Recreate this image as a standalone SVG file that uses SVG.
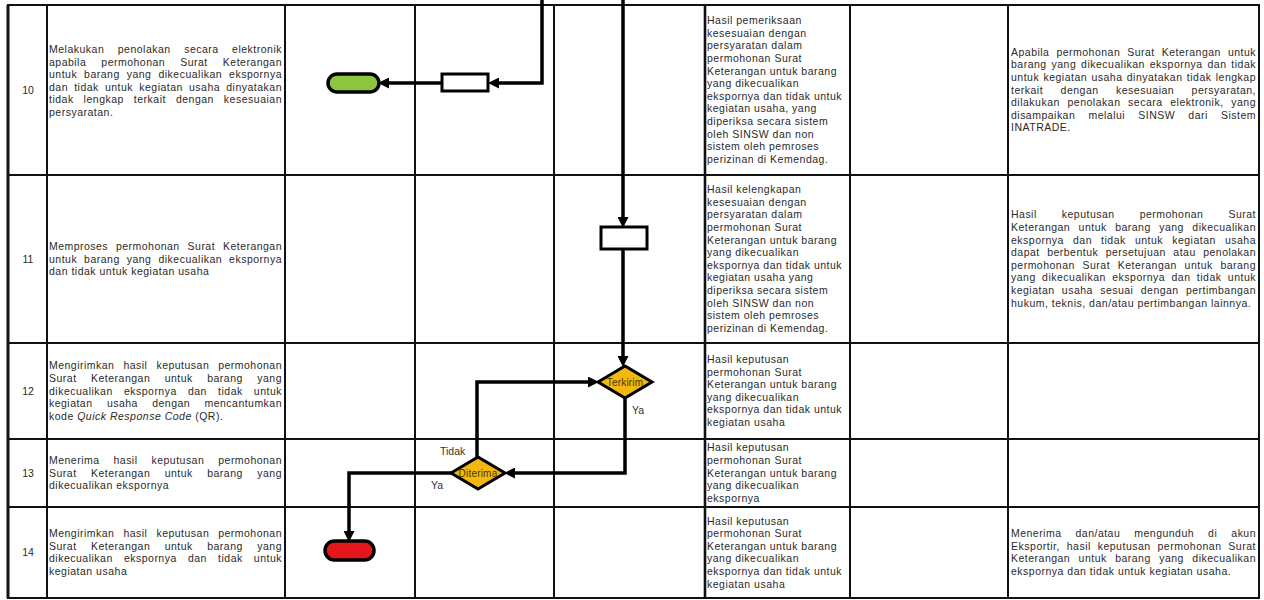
<svg xmlns="http://www.w3.org/2000/svg" width="1264" height="600" viewBox="0 0 1264 600">
<style>
.g{stroke:#111;stroke-width:2;fill:none}
.t{font-family:"Liberation Sans",Arial,sans-serif;font-size:10.5px;fill:#2a2a2a;letter-spacing:0.5px}
.n{font-family:"Liberation Sans",Arial,sans-serif;font-size:10.5px;fill:#2a2a2a;text-anchor:middle}
.lb{font-family:"Liberation Sans",Arial,sans-serif;font-size:10.5px;fill:#333}
.dt{font-family:"Liberation Sans",Arial,sans-serif;font-size:10px;letter-spacing:0.2px;fill:#4a3500;text-anchor:middle}
.c{stroke:#000;stroke-width:3.5;fill:none;marker-end:url(#ah)}
.box{fill:#fff;stroke:#000;stroke-width:3}
.dia{fill:#F3B70F;stroke:#000;stroke-width:3}
</style>
<defs>
<marker id="ah" markerUnits="userSpaceOnUse" markerWidth="11" markerHeight="11" refX="4" refY="5.5" orient="auto" viewBox="0 0 11 11">
<path d="M0,0 L11,5.5 L0,11 z" fill="#000"/>
</marker>
</defs>
<rect x="0" y="0" width="1264" height="600" fill="#fff"/>
<g id="grid">
<rect x="8" y="5" width="1251" height="593" class="g"/>
<line x1="8" y1="5" x2="8" y2="598" stroke="#111" stroke-width="3"/>
<line x1="47" y1="5" x2="47" y2="598" class="g"/>
<line x1="285" y1="5" x2="285" y2="598" class="g"/>
<line x1="415" y1="5" x2="415" y2="598" class="g"/>
<line x1="554" y1="5" x2="554" y2="598" class="g"/>
<line x1="705" y1="5" x2="705" y2="598" stroke="#111" stroke-width="2.6"/>
<line x1="850" y1="5" x2="850" y2="598" class="g"/>
<line x1="1008" y1="5" x2="1008" y2="598" class="g"/>
<line x1="8" y1="175" x2="1259" y2="175" class="g"/>
<line x1="8" y1="343" x2="1259" y2="343" class="g"/>
<line x1="8" y1="439" x2="1259" y2="439" class="g"/>
<line x1="8" y1="507" x2="1259" y2="507" class="g"/>
</g>
<g id="row10">
<text class="n" x="28" y="93.5">10</text>
<text class="t" x="49" y="53" word-spacing="10.1" textLength="233" lengthAdjust="spacing">Melakukan penolakan secara elektronik</text>
<text class="t" x="49" y="65.6" word-spacing="11.7" textLength="233" lengthAdjust="spacing">apabila permohonan Surat Keterangan</text>
<text class="t" x="49" y="78.2" word-spacing="3.5" textLength="233" lengthAdjust="spacing">untuk barang yang dikecualikan ekspornya</text>
<text class="t" x="49" y="90.8" word-spacing="2.7" textLength="233" lengthAdjust="spacing">dan tidak untuk kegiatan usaha dinyatakan</text>
<text class="t" x="49" y="103.4" word-spacing="6.5" textLength="233" lengthAdjust="spacing">tidak lengkap terkait dengan kesesuaian</text>
<text class="t" x="49" y="116">persyaratan.</text>
<text class="t" x="707" y="24.2">Hasil pemeriksaan</text>
<text class="t" x="707" y="36.8">kesesuaian dengan</text>
<text class="t" x="707" y="49.4">persyaratan dalam</text>
<text class="t" x="707" y="62">permohonan Surat</text>
<text class="t" x="707" y="74.6">Keterangan untuk barang</text>
<text class="t" x="707" y="87.2">yang dikecualikan</text>
<text class="t" x="707" y="99.8">ekspornya dan tidak untuk</text>
<text class="t" x="707" y="112.4">kegiatan usaha, yang</text>
<text class="t" x="707" y="125">diperiksa secara sistem</text>
<text class="t" x="707" y="137.6">oleh SINSW dan non</text>
<text class="t" x="707" y="150.2">sistem oleh pemroses</text>
<text class="t" x="707" y="162.8">perizinan di Kemendag.</text>
<text class="t" x="1011" y="55.7" word-spacing="3.6" textLength="245" lengthAdjust="spacing">Apabila permohonan Surat Keterangan untuk</text>
<text class="t" x="1011" y="68.3" word-spacing="1.4" textLength="245" lengthAdjust="spacing">barang yang dikecualikan ekspornya dan tidak</text>
<text class="t" x="1011" y="80.9" word-spacing="0.8" textLength="245" lengthAdjust="spacing">untuk kegiatan usaha dinyatakan tidak lengkap</text>
<text class="t" x="1011" y="93.5" word-spacing="14" textLength="245" lengthAdjust="spacing">terkait dengan kesesuaian persyaratan,</text>
<text class="t" x="1011" y="106.1" word-spacing="4.2" textLength="245" lengthAdjust="spacing">dilakukan penolakan secara elektronik, yang</text>
<text class="t" x="1011" y="118.7" word-spacing="9.8" textLength="245" lengthAdjust="spacing">disampaikan melalui SINSW dari Sistem</text>
<text class="t" x="1011" y="131.3">INATRADE.</text>
</g>
<g id="row11">
<text class="n" x="28" y="262.5">11</text>
<text class="t" x="49" y="249.9" word-spacing="4.6" textLength="233" lengthAdjust="spacing">Memproses permohonan Surat Keterangan</text>
<text class="t" x="49" y="262.5" word-spacing="3.5" textLength="233" lengthAdjust="spacing">untuk barang yang dikecualikan ekspornya</text>
<text class="t" x="49" y="275.1">dan tidak untuk kegiatan usaha</text>
<text class="t" x="707" y="193.2">Hasil kelengkapan</text>
<text class="t" x="707" y="205.8">kesesuaian dengan</text>
<text class="t" x="707" y="218.4">persyaratan dalam</text>
<text class="t" x="707" y="231">permohonan Surat</text>
<text class="t" x="707" y="243.6">Keterangan untuk barang</text>
<text class="t" x="707" y="256.2">yang dikecualikan</text>
<text class="t" x="707" y="268.8">ekspornya dan tidak untuk</text>
<text class="t" x="707" y="281.4">kegiatan usaha yang</text>
<text class="t" x="707" y="294">diperiksa secara sistem</text>
<text class="t" x="707" y="306.6">oleh SINSW dan non</text>
<text class="t" x="707" y="319.2">sistem oleh pemroses</text>
<text class="t" x="707" y="331.8">perizinan di Kemendag.</text>
<text class="t" x="1011" y="218.4" word-spacing="21.7" textLength="245" lengthAdjust="spacing">Hasil keputusan permohonan Surat</text>
<text class="t" x="1011" y="231" word-spacing="5" textLength="245" lengthAdjust="spacing">Keterangan untuk barang yang dikecualikan</text>
<text class="t" x="1011" y="243.6" word-spacing="5.7" textLength="245" lengthAdjust="spacing">ekspornya dan tidak untuk kegiatan usaha</text>
<text class="t" x="1011" y="256.2" word-spacing="4.1" textLength="245" lengthAdjust="spacing">dapat berbentuk persetujuan atau penolakan</text>
<text class="t" x="1011" y="268.8" word-spacing="4.3" textLength="245" lengthAdjust="spacing">permohonan Surat Keterangan untuk barang</text>
<text class="t" x="1011" y="281.4" word-spacing="2.9" textLength="245" lengthAdjust="spacing">yang dikecualikan ekspornya dan tidak untuk</text>
<text class="t" x="1011" y="294" word-spacing="3.9" textLength="245" lengthAdjust="spacing">kegiatan usaha sesuai dengan pertimbangan</text>
<text class="t" x="1011" y="306.6">hukum, teknis, dan/atau pertimbangan lainnya.</text>
</g>
<g id="row12">
<text class="n" x="28" y="394.5">12</text>
<text class="t" x="49" y="369.3" word-spacing="5.6" textLength="233" lengthAdjust="spacing">Mengirimkan hasil keputusan permohonan</text>
<text class="t" x="49" y="381.9" word-spacing="11" textLength="233" lengthAdjust="spacing">Surat Keterangan untuk barang yang</text>
<text class="t" x="49" y="394.5" word-spacing="7.7" textLength="233" lengthAdjust="spacing">dikecualikan ekspornya dan tidak untuk</text>
<text class="t" x="49" y="407.1" word-spacing="11" textLength="233" lengthAdjust="spacing">kegiatan usaha dengan mencantumkan</text>
<text class="t" x="49" y="419.7">kode <tspan font-style="italic">Quick Response Code</tspan> (QR).</text>
<text class="t" x="707" y="363">Hasil keputusan</text>
<text class="t" x="707" y="375.6">permohonan Surat</text>
<text class="t" x="707" y="388.2">Keterangan untuk barang</text>
<text class="t" x="707" y="400.8">yang dikecualikan</text>
<text class="t" x="707" y="413.4">ekspornya dan tidak untuk</text>
<text class="t" x="707" y="426">kegiatan usaha</text>
</g>
<g id="row13">
<text class="n" x="28" y="476.5">13</text>
<text class="t" x="49" y="463.9" word-spacing="10.6" textLength="233" lengthAdjust="spacing">Menerima hasil keputusan permohonan</text>
<text class="t" x="49" y="476.5" word-spacing="11" textLength="233" lengthAdjust="spacing">Surat Keterangan untuk barang yang</text>
<text class="t" x="49" y="489.1">dikecualikan ekspornya</text>
<text class="t" x="707" y="451.3">Hasil keputusan</text>
<text class="t" x="707" y="463.9">permohonan Surat</text>
<text class="t" x="707" y="476.5">Keterangan untuk barang</text>
<text class="t" x="707" y="489.1">yang dikecualikan</text>
<text class="t" x="707" y="501.7">ekspornya</text>
</g>
<g id="row14">
<text class="n" x="28" y="556">14</text>
<text class="t" x="49" y="537.1" word-spacing="5.6" textLength="233" lengthAdjust="spacing">Mengirimkan hasil keputusan permohonan</text>
<text class="t" x="49" y="549.7" word-spacing="11" textLength="233" lengthAdjust="spacing">Surat Keterangan untuk barang yang</text>
<text class="t" x="49" y="562.3" word-spacing="7.7" textLength="233" lengthAdjust="spacing">dikecualikan ekspornya dan tidak untuk</text>
<text class="t" x="49" y="574.9">kegiatan usaha</text>
<text class="t" x="707" y="524.5">Hasil keputusan</text>
<text class="t" x="707" y="537.1">permohonan Surat</text>
<text class="t" x="707" y="549.7">Keterangan untuk barang</text>
<text class="t" x="707" y="562.3">yang dikecualikan</text>
<text class="t" x="707" y="574.9">ekspornya dan tidak untuk</text>
<text class="t" x="707" y="587.5">kegiatan usaha</text>
<text class="t" x="1011" y="537.1" word-spacing="10.7" textLength="245" lengthAdjust="spacing">Menerima dan/atau mengunduh di akun</text>
<text class="t" x="1011" y="549.7" word-spacing="3.35" textLength="245" lengthAdjust="spacing">Eksportir, hasil keputusan permohonan Surat</text>
<text class="t" x="1011" y="562.3" word-spacing="5" textLength="245" lengthAdjust="spacing">Keterangan untuk barang yang dikecualikan</text>
<text class="t" x="1011" y="574.9">ekspornya dan tidak untuk kegiatan usaha.</text>
</g>
<g id="connectors">
<path class="c" d="M542,0 V83 H495"/>
<path class="c" d="M442,83 H385"/>
<path class="c" d="M623,0 V221"/>
<path class="c" d="M623,249 V360"/>
<path class="c" d="M625,397 V473 H511"/>
<path class="c" d="M477,457 V382 H592"/>
<path class="c" d="M451,473 H349 V535"/>
</g>
<g id="end-green"><rect x="328" y="74" width="51" height="18" rx="9" fill="#8CC63F" stroke="#000" stroke-width="3.5"/></g>
<g id="proc-10"><rect x="442" y="74" width="46" height="17" class="box"/></g>
<g id="proc-11"><rect x="601" y="227" width="46" height="22" class="box"/></g>
<g id="dec-terkirim">
<polygon points="598,382 625,366 652,382 625,398" class="dia"/>
<text class="dt" x="625" y="385.5">Terkirim</text>
</g>
<g id="dec-diterima">
<polygon points="451,473 478,457 505,473 478,489" class="dia"/>
<text class="dt" x="478" y="476.5">Diterima</text>
</g>
<g id="end-red"><rect x="325" y="541" width="49" height="19" rx="9.5" fill="#E3161B" stroke="#000" stroke-width="3.5"/></g>
<g id="labels">
<text class="lb" x="632" y="414">Ya</text>
<text class="lb" x="440" y="455">Tidak</text>
<text class="lb" x="431" y="489">Ya</text>
</g>
</svg>
